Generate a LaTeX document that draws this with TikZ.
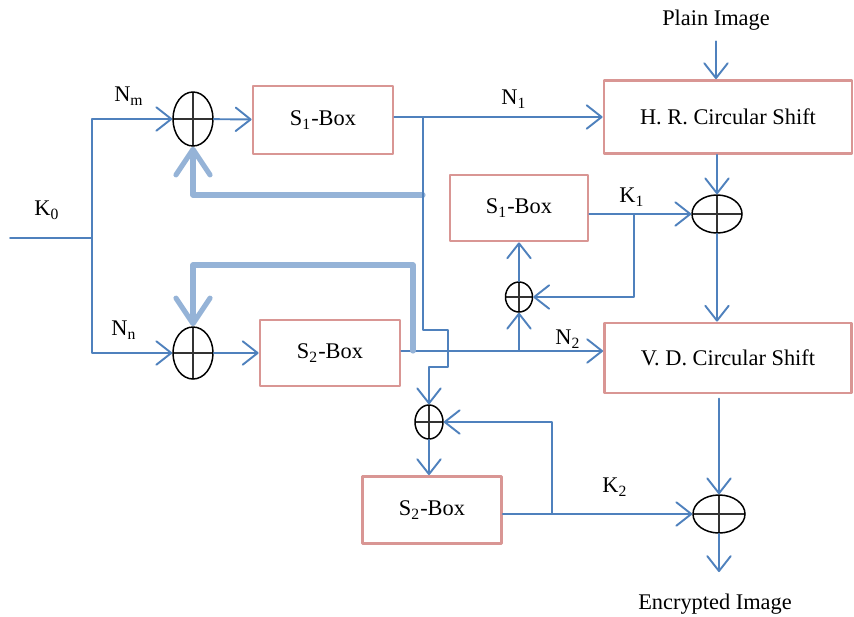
\documentclass[tikz,border=0pt]{standalone}
\usepackage{fontspec}
\setmainfont{Liberation Serif}
\usetikzlibrary{arrows.meta, calc, positioning, shapes.geometric}
\definecolor{fblue}{HTML}{4F81BD}
\definecolor{fbluelt}{HTML}{95B3D7}
\definecolor{boxred}{HTML}{D99694}
\definecolor{xorgray}{HTML}{333333}
\newcommand{\pxw}{0.4695pt}
\tikzset{
  blk/.style      = {rectangle, draw=boxred, line width=1.3pt, fill=white,
                     font=\fontsize{10.5}{12}\selectfont, inner sep=2pt},
  xorop/.style    = {ellipse, draw=black, line width=0.7pt, fill=white,
                     inner sep=0pt,
                     path picture={\draw[xorgray, line width=1pt]
                       (path picture bounding box.north) -- (path picture bounding box.south)
                       (path picture bounding box.west) -- (path picture bounding box.east);}},
  lab/.style      = {font=\fontsize{10.5}{12}\selectfont, inner sep=1pt},
  flowline/.style = {draw=fblue, line width=0.9pt},
  flow/.style     = {flowline, -{Straight Barb[round, length=7pt, width=11pt]}},
  fbk/.style      = {draw=fbluelt, line width=2.4pt,
                     -{Straight Barb[round, length=12pt, width=16pt]}},
}

\begin{document}
\begin{tikzpicture}[x=0.0165cm, y=-0.0165cm, line cap=round, line join=round]
  \useasboundingbox (0,0) rectangle (854,616);
  \foreach \n/\x/\y/\w/\h in {xa/193/119/40/54, xb/193/353/40/52, xc/519/297/27/30,
                              xd/717/214/50/38, xe/719/514/52/38, xf/429/422/28/34}
    \node[xorop, minimum width=\w*\pxw, minimum height=\h*\pxw] (\n) at (\x,\y) {};
  \node[blk, minimum width=140*\pxw, minimum height=68*\pxw] (sa) at (323,120) {S\textsubscript{1}-Box};
  \node[blk, minimum width=140*\pxw, minimum height=66*\pxw] (sb) at (330,353) {S\textsubscript{2}-Box};
  \node[blk, minimum width=138*\pxw, minimum height=66*\pxw] (sm) at (519,208) {S\textsubscript{1}-Box};
  \node[blk, minimum width=139*\pxw, minimum height=67*\pxw] (sc) at (432,510) {S\textsubscript{2}-Box};
  \node[blk, minimum width=248*\pxw, minimum height=73*\pxw] (hr) at (728,117) {H. R. Circular Shift};
  \node[blk, minimum width=247*\pxw, minimum height=70*\pxw] (vd) at (728,358) {V. D. Circular Shift};
  \node[lab] (pimg) at (716,20) {Plain Image};
  \node[lab] (eimg) at (715,604) {Encrypted Image};
  \node[lab] (lk0) at (47,210) {K\textsubscript{0}};
  \node[lab] (lnm) at (129,96) {N\textsubscript{m}};
  \node[lab] (lnn) at (124,330) {N\textsubscript{n}};
  \node[lab] (ln1) at (514,99) {N\textsubscript{1}};
  \node[lab] (ln2) at (568,339) {N\textsubscript{2}};
  \node[lab] (lk1) at (632,197) {K\textsubscript{1}};
  \node[lab] (lk2) at (615,487) {K\textsubscript{2}};
  \coordinate (kin) at (10,238);
  \coordinate (ksplit) at (92,238);
  \coordinate (ja) at (423,117);
  \coordinate (jb) at (423,330);
  \coordinate (jc) at (448,367);
  \coordinate (fa) at (193,195);
  \coordinate (jd) at (413,351);
  \coordinate (fb) at (193,265);
  \coordinate (je) at (519,351);
  \coordinate (jf) at (634,214);
  \coordinate (jg) at (552,514);
  \coordinate (xo) at (719,572);
  \draw[flowline] (kin) -- (ksplit);
  \draw[flow] (ksplit) |- (xa.west);
  \draw[flow] (ksplit) |- (xb.west);
  \draw[flow] (xa) -- (sa);
  \draw[flow] (xb) -- (sb);
  \draw[flow] (sa.east |- ja) -- (ja -| hr.west);
  \draw[flow] (sb.east |- jd) -- (jd -| vd.west);
  \draw[fbk] (ja |- fa) -- (fa) -- (xa.south);
  \draw[fbk] (jd) |- (fb) -- (xb.north);
  \draw[flow] (ja) -- (jb) -| (jc) -| (xf.north);
  \draw[flow] (je) -- (xc.south);
  \draw[flow] (xc.north) -- (sm.south);
  \draw[flow] (sm.east |- xd) -- (xd.west);
  \draw[flow] (jf) |- (xc.east);
  \draw[flow, shorten <=4pt] (pimg.south) -- (pimg.south |- hr.north);
  \draw[flow] (xd.north |- hr.south) -- (xd.north);
  \draw[flow] (xd.south) -- (xd.south |- vd.north);
  \draw[flow, shorten <=2pt] (xe.north |- vd.south) -- (xe.north);
  \draw[flow] (xe.south) -- (xo);
  \draw[flow] (sc.east |- xe) -- (xe.west);
  \draw[flow] (jg) |- (xf.east);
  \draw[flow] (xf.south) -- (xf.south |- sc.north);
\end{tikzpicture}
\end{document}
